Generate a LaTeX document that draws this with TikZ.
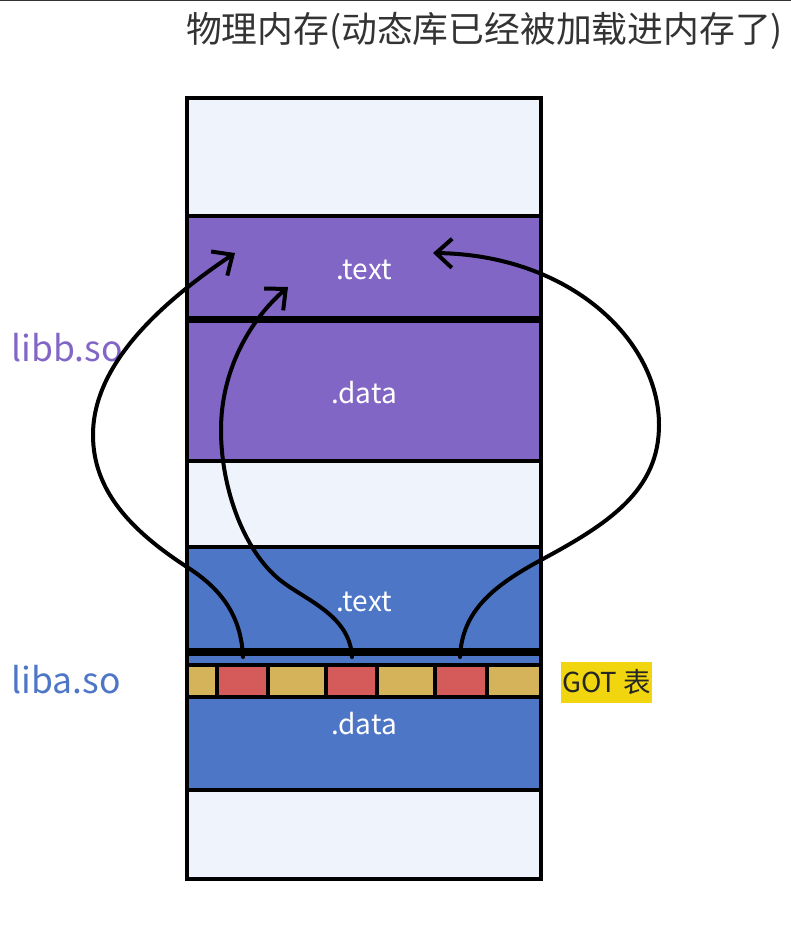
\documentclass[tikz,border=0pt]{standalone}
\usepackage{fontspec}
\setmainfont{Noto Sans CJK SC}
\usepackage{tikz}
\usetikzlibrary{arrows.meta,positioning,calc}

\definecolor{libbpurple}{HTML}{8266C6}
\definecolor{libablue}{HTML}{4E76C6}
\definecolor{emptyfill}{HTML}{EEF3FC}
\definecolor{gotgold}{HTML}{D4B35A}
\definecolor{gotred}{HTML}{D55B5B}
\definecolor{gotyellow}{HTML}{F0D50F}

\begin{document}
\begin{tikzpicture}[x=1pt, y=-1pt,
    region/.style={draw=black, line width=3.5pt, minimum width=354pt, inner sep=0pt, text=white,
        text height=25pt, text depth=0pt, font=\fontsize{28}{32}\selectfont},
    slot/.style={draw=black, line width=3.5pt, minimum height=32pt, inner sep=0pt},
    divider/.style={line width=6.5pt},
    jump/.style={line width=4pt, line cap=round, -{Straight Barb[length=16pt,width=29pt]}},
    liblabel/.style={font=\fontsize{35.5}{42}\selectfont}]
    \useasboundingbox (0,0) rectangle (791,935);

    % Rule along the top edge and the title
    \coordinate (ruleleft) at (0,0);
    \coordinate (ruleright) at (791,0);
    \draw[line width=2pt, black!80] (ruleleft) -- (ruleright);
    \node[font=\fontsize{35.8}{42}\selectfont, black!80] (title) at (484.5,31) {物理内存(动态库已经被加载进内存了)};

    % Free parts of the memory
    \node[region, fill=emptyfill, minimum height=118pt] (freetop) at (364,157) {};
    \node[region, fill=emptyfill, minimum height=87pt] (freemid) at (364,503.5) {};
    \node[region, fill=emptyfill, minimum height=89pt] (freelow) at (364,834.5) {};

    % libb.so
    \node[region, fill=libbpurple, minimum height=102pt] (btext) at (364,267) {.text};
    \node[region, fill=libbpurple, minimum height=141pt] (bdata) at (364,390.5) {.data};
    \draw[divider] (btext.south west) -- (btext.south east);
    \node[liblabel, text=libbpurple] (libb) at (67,348) {libb.so};

    % liba.so
    \node[region, fill=libablue, minimum height=136pt] (adata) at (364,722) {.data};
    \node[region, fill=libablue, minimum height=103pt] (atext) at (364,598.5) {.text};
    \draw[divider] (atext.south west) -- (atext.south east);
    \node[liblabel, text=libablue] (liba) at (66,680) {liba.so};

    % GOT slots
    \foreach \name/\mid/\wide/\col in {got1/202/30/gotgold, got2/242.5/51/gotred, got3/297/58/gotgold,
        got4/351.5/51/gotred, got5/406/58/gotgold, got6/461/52/gotred, got7/514/54/gotgold}
        \node[slot, fill=\col, minimum width=\wide pt] (\name) at (\mid,681) {};
    \node[fill=gotyellow, minimum width=91pt, minimum height=41pt, inner sep=0pt,
        font=\fontsize{27.5}{32}\selectfont, text=black!85] (gotlabel) at (606.5,682.5) {GOT 表};

    % Whole memory frame
    \node[draw=black, line width=3.5pt, minimum width=354pt, minimum height=781pt] (memory) at (364,488.5) {};

    % Jumps from the GOT to libb.so
    \coordinate (from1) at (243,657);
    \coordinate (from2) at (352,657);
    \coordinate (from3) at (460,657);
    \coordinate (to1) at (235,253);
    \coordinate (to2) at (288,287);
    \coordinate (to3) at (433,253);
    \draw[jump] (from1) .. controls (241,610) and (215,585) .. (187,567)
        .. controls (130,530) and (93,490) .. (93,435)
        .. controls (93,370) and (150,310) .. (to1);
    \draw[jump] (from2) .. controls (350,615) and (305,600) .. (280,580)
        .. controls (245,552) and (221,490) .. (221,430)
        .. controls (221,370) and (250,320) .. (to2);
    \draw[jump] (from3) .. controls (462,610) and (495,585) .. (541,560)
        .. controls (610,523) and (659,490) .. (659,425)
        .. controls (659,340) and (570,255) .. (to3);
\end{tikzpicture}
\end{document}
